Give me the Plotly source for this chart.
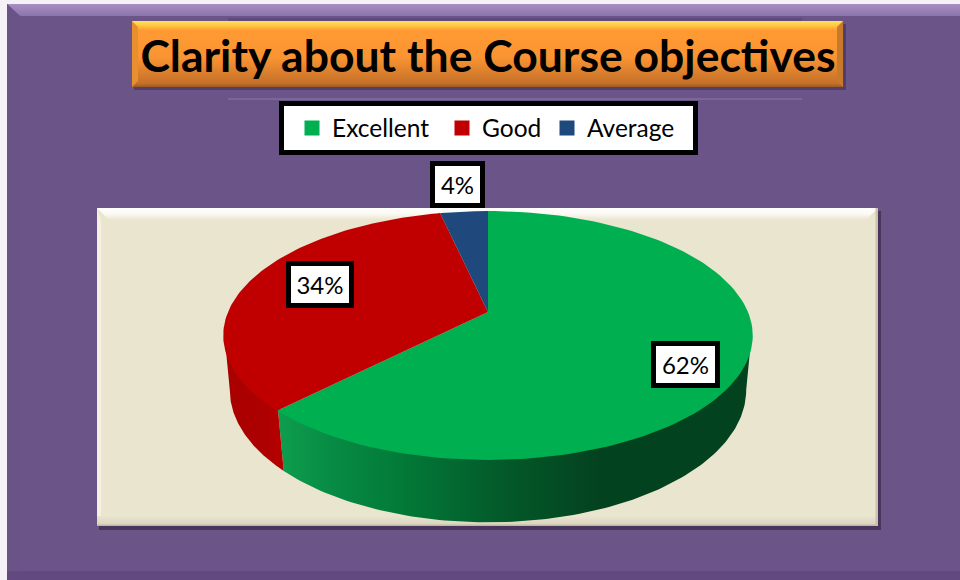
import math
import plotly.graph_objects as go

TITLE = "Clarity about the Course objectives"
categories = ["Excellent", "Good", "Average"]
values = [62.4, 34.1, 3.5]
top_colors = ["#00B050", "#C00000", "#1F497D"]

CX, APEX_Y, A, B, K = 488, 312, 260, 120, 0.1887
A2, B2, APEX_Y2, K2 = 250, 124, 357, 0.25
FONT = "Lato"
PURPLE = "#6B5488"
BEIGE = "#EAE5CF"


def project(theta, a, b, cy, k):
    u, v = math.sin(theta), math.cos(theta)
    d = 1 + k * v
    return CX + a * u / d, cy - b * v / d


def arc(t0, t1, a, b, cy, k, n=120):
    pts = [project(t0 + (t1 - t0) * i / n, a, b, cy, k) for i in range(n + 1)]
    return [p[0] for p in pts], [p[1] for p in pts]


fig = go.Figure()


def flip(stops):
    return [[1 - s, c] for s, c in reversed(stops)]


def poly(xs, ys, color=None, gradient=None, gtype="vertical"):
    kw = {}
    if gradient:
        # the y axis runs downward, so vertical gradients are given top to bottom and flipped here
        kw["fillgradient"] = dict(type=gtype, colorscale=flip(gradient) if gtype == "vertical" else gradient)
    else:
        kw["fillcolor"] = color
    fig.add_trace(go.Scatter(x=list(xs) + [xs[0]], y=list(ys) + [ys[0]], mode="lines",
                             line=dict(width=0), fill="toself", hoverinfo="skip",
                             showlegend=False, **kw))


def rect(x0, y0, x1, y1, color=None, gradient=None, gtype="vertical"):
    poly([x0, x1, x1, x0], [y0, y0, y1, y1], color, gradient, gtype)


# slide background
rect(7, 4, 960, 580, PURPLE)
poly([7, 960, 960, 20], [4, 4, 16, 16], gradient=[[0, "#A78FC2"], [1, "#8C75AC"]])
poly([7, 20, 20, 7], [4, 16, 570, 580], "#6A5387")
rect(7, 571, 960, 580, "#62497F")
rect(228, 18, 802, 21, "#5F4A80")
rect(228, 98.5, 802, 99.5, "#8C78A8")

# title box
rect(134, 24, 846, 90, "rgba(50,35,70,0.45)")
rect(132, 21, 843, 87, gradient=[[0, "#FFE060"], [0.07, "#FFC840"], [0.14, "#FF9A33"],
                                 [0.55, "#FA9432"], [0.95, "#C4702A"], [1, "#9A5A22"]])
poly([837, 843, 843, 837], [27, 21, 87, 81], "#C87A2C")
poly([132, 138, 138, 132], [21, 27, 81, 87], "#E8902F")

# panel
rect(99, 211, 881, 530, "rgba(50,35,60,0.6)")
rect(97, 208, 878, 526, BEIGE)
poly([97, 878, 866, 109], [208, 208, 220, 220], gradient=[[0, "#FFFFFF"], [0.5, "#FBF9F2"], [1, BEIGE]])
poly([97, 101, 101, 97], [208, 220, 516, 526], "#F4F1E3")
rect(97, 516, 878, 526, gradient=[[0, BEIGE], [0.75, "#DDD6C2"], [1, "#B9B1A0"]])
poly([878, 866, 866, 878], [526, 516, 516, 526], "#D8D1BC")
rect(875.5, 208, 878, 526, "#C9C2AE")

# pie, every angle from the values
total = sum(values)
edges = [0.0]
for val in values:
    edges.append(edges[-1] + 2 * math.pi * val / total)

top_right, top_left = math.radians(101), math.radians(259)
low_right, low_left = math.radians(104.5), math.radians(255.5)
green_end = edges[1]
low_green_end = green_end - math.radians(3)
UNDER = 3  # the walls run a little way under the top face, so no seam shows

x1, y1 = arc(top_right, green_end, A - 1, B, APEX_Y - UNDER, K)
x2, y2 = arc(low_right, low_green_end, A2, B2, APEX_Y2, K2)
poly(x1 + x2[::-1], y1 + y2[::-1],
     gradient=[[0, "#0E9E4E"], [0.12, "#078A44"], [0.26, "#027A38"], [0.47, "#035A2A"],
               [0.68, "#03421F"], [1, "#03421F"]], gtype="horizontal")
x1, y1 = arc(green_end, top_left, A - 1, B, APEX_Y - UNDER, K)
x2, y2 = arc(low_green_end, low_left, A2, B2, APEX_Y2, K2)
poly(x1 + x2[::-1], y1 + y2[::-1], gradient=[[0, "#A80000"], [0.7, "#AE0000"], [1, "#B80000"]],
     gtype="horizontal")

for i in range(len(values)):
    xs, ys = arc(edges[i], edges[i + 1], A, B, APEX_Y, K)
    poly([CX] + xs, [APEX_Y] + ys, top_colors[i])

# legend box, with one legend per entry on top of it so each can sit at its own place
rect(279, 101, 698, 155, "#000000")
rect(284, 106, 693, 150, "#FFFFFF")

legend_ids = ["legend", "legend2", "legend3"]
legend_x = [292, 442, 547]
legends = {}
for name, col, lid, lx in zip(categories, top_colors, legend_ids, legend_x):
    fig.add_trace(go.Scatter(x=[None], y=[None], mode="markers", name=name, legend=lid,
                             marker=dict(symbol="square", size=15, color=col)))
    legends[lid] = dict(orientation="h", x=lx / 960, y=1 - 128 / 580, xanchor="left", yanchor="middle",
                        bgcolor="rgba(0,0,0,0)", borderwidth=0,
                        font=dict(family=FONT, size=24.5, color="#000000"),
                        itemclick=False, itemdoubleclick=False)

# data labels
label_boxes = [(685, 364), (320, 284), (457, 184)]
label_w = [67, 66, 53]
annotations = []
for val, (lx, ly), w in zip(values, label_boxes, label_w):
    annotations.append(dict(x=lx, y=ly, xref="x", yref="y", text=f"{round(val + 1e-9)}%", showarrow=False,
                            font=dict(family=FONT, size=24, color="#000000"), bgcolor="#FFFFFF",
                            bordercolor="#000000", borderwidth=5, width=w - 10, height=35,
                            align="center", valign="middle"))

fig.update_layout(
    width=960, height=580, autosize=False,
    margin=dict(l=0, r=0, t=0, b=0, pad=0),
    paper_bgcolor="#F4F2F6", plot_bgcolor="rgba(0,0,0,0)",
    xaxis=dict(range=[0, 960], visible=False, fixedrange=True),
    yaxis=dict(range=[580, 0], visible=False, fixedrange=True),
    title=dict(text=f"<b>{TITLE}</b>", x=488 / 960, xanchor="center", y=1 - 56 / 580, yanchor="middle",
               font=dict(family=FONT, size=44.5, color="#000000")),
    annotations=annotations,
    showlegend=True,
    **legends,
)
fig.write_html("out.html", config=dict(displayModeBar=False),
               post_script="document.body.style.margin='0';document.body.style.overflow='hidden';")
